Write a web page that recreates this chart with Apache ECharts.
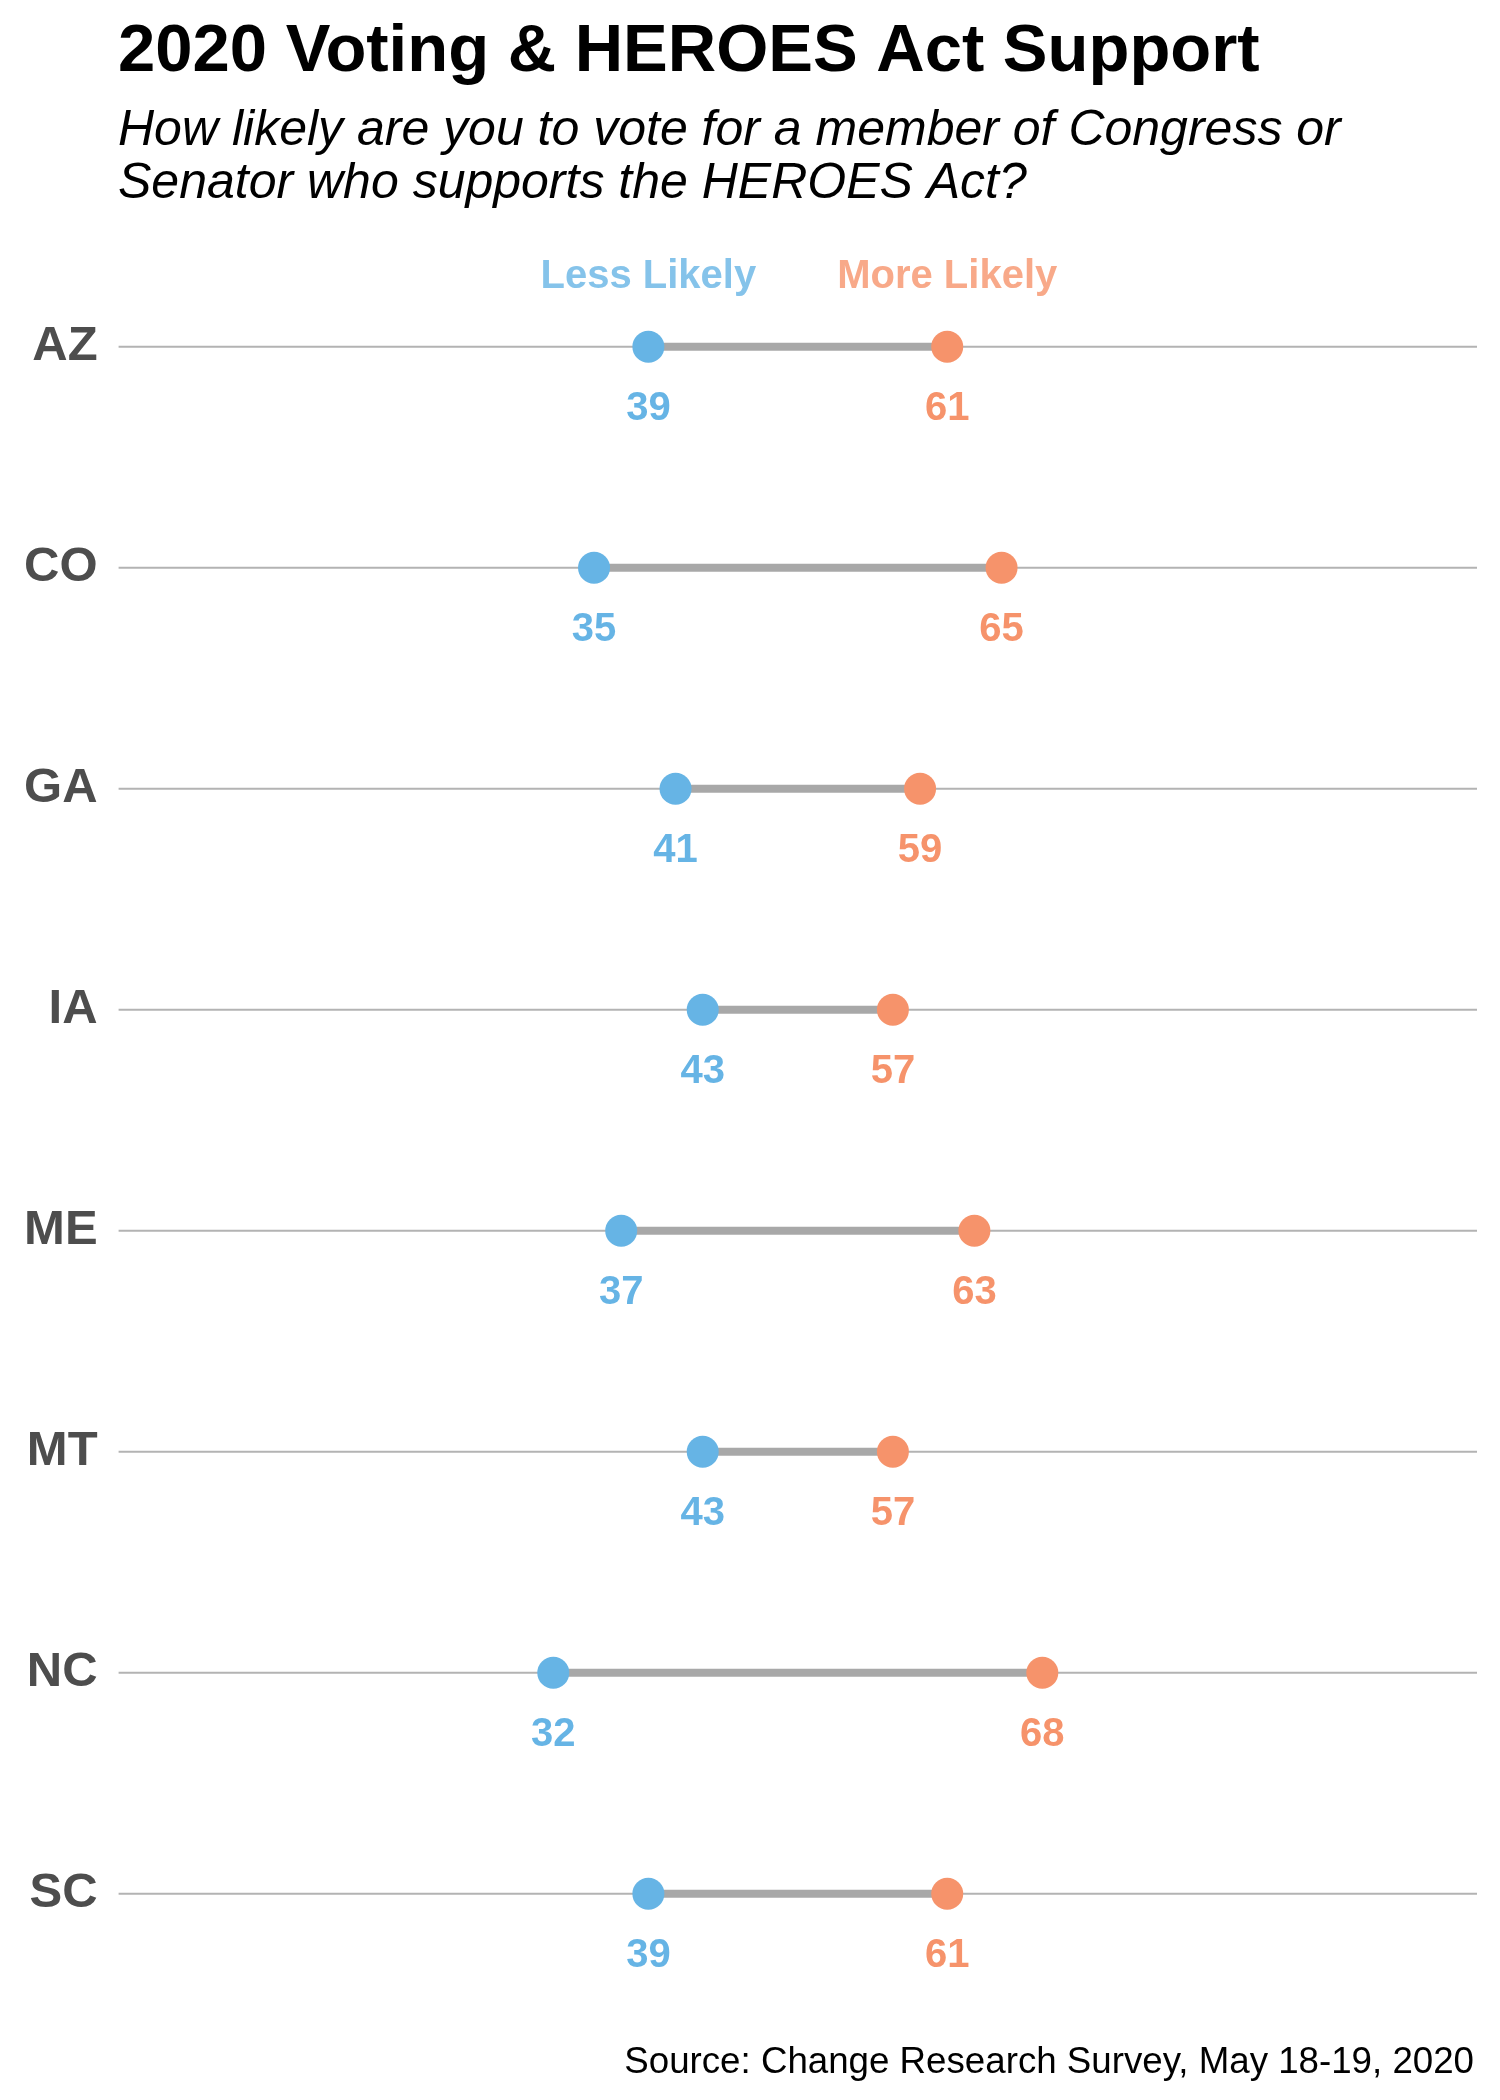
<!DOCTYPE html>
<html>
<head>
<meta charset="utf-8">
<script src="https://cdn.jsdelivr.net/npm/echarts@6/dist/echarts.min.js"></script>
<style>
html,body{margin:0;padding:0;background:#fff;}
#chart{width:1500px;height:2100px;}
</style>
</head>
<body>
<div id="chart"></div>
<script>
const states = ['AZ', 'CO', 'GA', 'IA', 'ME', 'MT', 'NC', 'SC'];
const lessLikely = [39, 35, 41, 43, 37, 43, 32, 39];
const moreLikely = [61, 65, 59, 57, 63, 57, 68, 61];
const seriesNames = ['Less Likely', 'More Likely'];

const BLUE = '#66b4e5';
const ORANGE = '#f6936b';
const FONT = 'Liberation Sans, Arial, sans-serif';

const chart = echarts.init(document.getElementById('chart'), null, {renderer: 'canvas'});

const gridData = states.map(s => [s]);
const segData = states.map((s, i) => [lessLikely[i], moreLikely[i], s]);
const lessData = states.map((s, i) => [lessLikely[i], s]);
const moreData = states.map((s, i) => [moreLikely[i], s]);

function valueLabel(color) {
  return {
    show: true,
    position: 'inside',
    offset: [0, 62],
    formatter: p => String(p.value[0]),
    color: color,
    fontSize: 40,
    fontWeight: 'bold',
    fontFamily: FONT
  };
}

const option = {
  animation: false,
  backgroundColor: '#ffffff',
  title: [
    {
      text: '2020 Voting & HEROES Act Support',
      left: 113, top: 14,
      textStyle: {fontSize: 67, fontWeight: 'bold', color: '#000', fontFamily: FONT}
    },
    {
      text: 'How likely are you to vote for a member of Congress or\nSenator who supports the HEROES Act?',
      left: 113, top: 100,
      textStyle: {fontSize: 50, fontStyle: 'italic', fontWeight: 'normal', color: '#000', fontFamily: FONT, lineHeight: 53}
    },
    {
      text: 'Source: Change Research Survey, May 18-19, 2020',
      right: 21, top: 2039,
      textStyle: {fontSize: 36.7, fontWeight: 'normal', color: '#000', fontFamily: FONT}
    }
  ],
  grid: {left: 118.6, right: 23, top: 236.2, bottom: 95.8, containLabel: false},
  xAxis: {
    type: 'value', min: 0, max: 100,
    axisLine: {show: false}, axisTick: {show: false}, axisLabel: {show: false}, splitLine: {show: false}
  },
  yAxis: {
    type: 'category', data: states, inverse: true,
    axisLine: {show: false}, axisTick: {show: false}, splitLine: {show: false},
    axisLabel: {fontSize: 49, fontWeight: 'bold', color: '#4d4d4d', fontFamily: FONT, margin: 21,
      padding: [7, 0, 0, 0]}
  },
  series: [
    {
      type: 'custom', name: 'gridlines', z: 1, silent: true,
      data: gridData,
      encode: {y: 0},
      renderItem: function (params, api) {
        const cs = params.coordSys;
        const p = api.coord([0, api.value(0)]);
        return {
          type: 'line',
          shape: {x1: cs.x, y1: p[1], x2: cs.x + cs.width, y2: p[1]},
          style: {stroke: '#b3b3b3', lineWidth: 2}
        };
      }
    },
    {
      type: 'custom', name: 'segments', z: 2, silent: true,
      data: segData,
      encode: {x: [0, 1], y: 2},
      renderItem: function (params, api) {
        const a = api.coord([api.value(0), api.value(2)]);
        const b = api.coord([api.value(1), api.value(2)]);
        return {
          type: 'line',
          shape: {x1: a[0], y1: a[1], x2: b[0], y2: b[1]},
          style: {stroke: '#a8a8a8', lineWidth: 8}
        };
      }
    },
    {
      type: 'scatter', name: seriesNames[0], z: 3,
      data: lessData, symbolSize: 32,
      itemStyle: {color: BLUE, opacity: 1},
      label: valueLabel(BLUE)
    },
    {
      type: 'scatter', name: seriesNames[1], z: 3,
      data: moreData, symbolSize: 32,
      itemStyle: {color: ORANGE, opacity: 1},
      label: valueLabel(ORANGE)
    },
    {
      type: 'scatter', name: 'legendLess', z: 4, silent: true,
      data: [lessData[0]], symbolSize: 0,
      label: {show: true, position: 'inside', offset: [0, -70], formatter: seriesNames[0],
        color: BLUE, fontSize: 40, fontWeight: 'bold', fontFamily: FONT}
    },
    {
      type: 'scatter', name: 'legendMore', z: 4, silent: true,
      data: [moreData[0]], symbolSize: 0,
      label: {show: true, position: 'inside', offset: [0, -70], formatter: seriesNames[1],
        color: ORANGE, fontSize: 40, fontWeight: 'bold', fontFamily: FONT}
    }
  ]
};
chart.setOption(option);
</script>
</body>
</html>
